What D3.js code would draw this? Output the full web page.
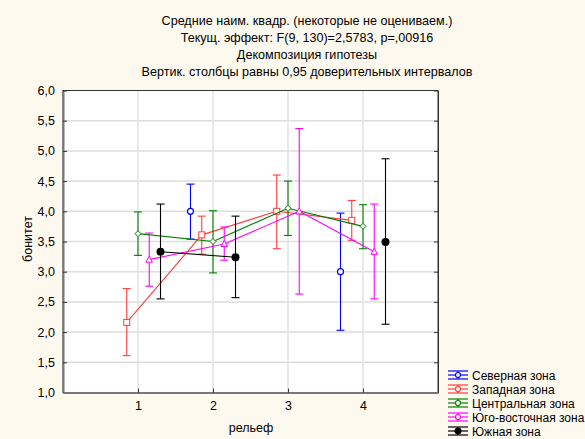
<!DOCTYPE html>
<html>
<head>
<meta charset="utf-8">
<script src="https://cdn.jsdelivr.net/npm/d3@7"></script>
<style>
  body { margin: 0; background: #fef9ee; }
  svg { display: block; font-family: "Liberation Sans", Arial, sans-serif; }
</style>
</head>
<body>
<svg id="chart" width="585" height="439"></svg>
<script>
// Title lines
const titles = [
    "Средние наим. квадр. (некоторые не оцениваем.)",
    "Текущ.  эффект: F(9, 130)=2,5783, p=,00916",
    "Декомпозиция гипотезы",
    "Вертик. столбцы равны 0,95 доверительных интервалов"
];

// Factor levels (рельеф) and zones
const levels = [1, 2, 3, 4];
const zones = ["Северная зона", "Западная зона", "Центральная зона", "Юго-восточная зона", "Южная зона"];
const zoneColors = ["#0000ff", "#ff3b3b", "#008000", "#ff00ff", "#000000"];
const zoneMarkers = ["circle", "square", "diamond", "triangle", "dot"];

// Means, lower and upper 95% limits, per zone (null = not estimated)
const means = [
    [null, 4.00, null, 3.00],
    [2.16, 3.61, 4.00, 3.85],
    [3.63, 3.50, 4.05, 3.75],
    [3.20, 3.46, 4.00, 3.33],
    [3.33, 3.24, null, 3.49]
];
const lower = [
    [null, 3.54, null, 2.03],
    [1.61, 3.29, 3.38, 3.52],
    [3.27, 2.98, 3.60, 3.38],
    [2.76, 3.19, 2.63, 2.55],
    [2.55, 2.57, null, 2.13]
];
const upper = [
    [null, 4.45, null, 3.97],
    [2.72, 3.92, 4.60, 4.18],
    [3.99, 4.01, 4.50, 4.11],
    [3.64, 3.74, 5.37, 4.12],
    [4.12, 3.92, null, 4.87]
];

const yTicks = [1.0, 1.5, 2.0, 2.5, 3.0, 3.5, 4.0, 4.5, 5.0, 5.5, 6.0];

const svg = d3.select("#chart");
const plot = { left: 63, right: 438, top: 90.5, bottom: 392.5 };

const x = d3.scaleLinear().domain([0, 5]).range([plot.left, plot.right]);
const y = d3.scaleLinear().domain([1, 6]).range([plot.bottom, plot.top]);
const fmt = v => d3.format(".1f")(v).replace(".", ",");

// Titles
svg.selectAll(".title")
    .data(titles)
    .enter().append("text")
    .attr("x", 307)
    .attr("y", (d, i) => 25 + i * 17)
    .attr("text-anchor", "middle")
    .style("font-size", "12.6px")
    .text(d => d);

// Plot background
svg.append("rect")
    .attr("x", plot.left).attr("y", plot.top)
    .attr("width", plot.right - plot.left)
    .attr("height", plot.bottom - plot.top)
    .attr("fill", "#fff");

// Grid lines
svg.selectAll(".hgrid")
    .data(yTicks.slice(1, -1))
    .enter().append("line")
    .attr("x1", plot.left).attr("x2", plot.right)
    .attr("y1", d => y(d)).attr("y2", d => y(d))
    .attr("stroke", "#dddddd").attr("stroke-width", 1.5);

svg.selectAll(".vgrid")
    .data(levels)
    .enter().append("line")
    .attr("x1", d => x(d)).attr("x2", d => x(d))
    .attr("y1", plot.top).attr("y2", plot.bottom)
    .attr("stroke", "#e3e3e3").attr("stroke-width", 1.5);

// Frame
svg.append("rect")
    .attr("x", plot.left).attr("y", plot.top)
    .attr("width", plot.right - plot.left)
    .attr("height", plot.bottom - plot.top)
    .attr("fill", "none")
    .attr("stroke", "#333").attr("stroke-width", 1);

// Axes (inward ticks)
const yAxis = svg.append("g")
    .attr("transform", `translate(${plot.left},0)`)
    .call(d3.axisLeft(y).tickValues(yTicks).tickFormat(fmt).tickSizeInner(-4).tickSizeOuter(0).tickPadding(8));
const yAxisR = svg.append("g")
    .attr("transform", `translate(${plot.right},0)`)
    .call(d3.axisRight(y).tickValues(yTicks).tickFormat("").tickSizeInner(-4).tickSizeOuter(0));
const xAxis = svg.append("g")
    .attr("transform", `translate(0,${plot.bottom})`)
    .call(d3.axisBottom(x).tickValues(levels).tickFormat(d3.format("d")).tickSizeInner(-4).tickSizeOuter(0).tickPadding(9));

[yAxis, yAxisR, xAxis].forEach(g => {
    g.select(".domain").attr("stroke", "#777").attr("stroke-width", 2);
    g.selectAll(".tick line").attr("stroke", "#333");
    g.selectAll("text").style("font-size", "12.5px").style("font-family", "Liberation Sans, Arial, sans-serif").attr("fill", "#000");
});
yAxisR.select(".domain").attr("stroke", "#333").attr("stroke-width", 1);

// Axis labels
svg.append("text")
    .attr("transform", "translate(32,239) rotate(-90)")
    .attr("text-anchor", "middle")
    .style("font-size", "12.5px")
    .text("бонитет");

svg.append("text")
    .attr("x", 251).attr("y", 432)
    .attr("text-anchor", "middle")
    .style("font-size", "12.5px")
    .text("рельеф");

// Marker drawing
function drawMarker(g, type, cx, cy, color) {
    if (type === "circle") {
        g.append("circle").attr("cx", cx).attr("cy", cy).attr("r", 3)
            .attr("fill", "#fff").attr("stroke", color).attr("stroke-width", 1.2);
    } else if (type === "square") {
        g.append("rect").attr("x", cx - 3).attr("y", cy - 3).attr("width", 6).attr("height", 6)
            .attr("fill", "#fff").attr("stroke", color).attr("stroke-width", 1);
    } else if (type === "diamond") {
        g.append("path").attr("d", `M${cx},${cy - 3}L${cx + 3},${cy}L${cx},${cy + 3}L${cx - 3},${cy}Z`)
            .attr("fill", "#fff").attr("stroke", color).attr("stroke-width", 1);
    } else if (type === "triangle") {
        g.append("path").attr("d", `M${cx},${cy - 3.5}L${cx + 3.2},${cy + 2.6}L${cx - 3.2},${cy + 2.6}Z`)
            .attr("fill", "#fff").attr("stroke", color).attr("stroke-width", 1);
    } else {
        g.append("circle").attr("cx", cx).attr("cy", cy).attr("r", 4).attr("fill", color);
    }
}

// Series
const capHalf = 4;
zones.forEach((zone, zi) => {
    const offset = (zi - 2) * 0.15;
    const color = zoneColors[zi];
    const g = svg.append("g");

    // connecting lines between adjacent estimated levels
    for (let k = 0; k < levels.length - 1; k++) {
        if (means[zi][k] != null && means[zi][k + 1] != null) {
            g.append("line")
                .attr("x1", x(levels[k] + offset)).attr("y1", y(means[zi][k]))
                .attr("x2", x(levels[k + 1] + offset)).attr("y2", y(means[zi][k + 1]))
                .attr("stroke", color).attr("stroke-width", 1.1);
        }
    }

    levels.forEach((lv, k) => {
        if (means[zi][k] == null) return;
        const cx = x(lv + offset);
        const ylo = y(lower[zi][k]), yhi = y(upper[zi][k]);
        g.append("line").attr("x1", cx).attr("x2", cx).attr("y1", ylo).attr("y2", yhi)
            .attr("stroke", color).attr("stroke-width", 1.1);
        [ylo, yhi].forEach(yy => {
            g.append("line").attr("x1", cx - capHalf).attr("x2", cx + capHalf)
                .attr("y1", yy).attr("y2", yy)
                .attr("stroke", color).attr("stroke-width", 1.1);
        });
        drawMarker(g, zoneMarkers[zi], cx, y(means[zi][k]), color);
    });
});

// Legend
const legend = svg.append("g").attr("transform", "translate(448,375)");
zones.forEach((zone, zi) => {
    const row = legend.append("g").attr("transform", `translate(0,${zi * 14})`);
    const color = zoneColors[zi];
    [-4, 0, 4].forEach(dy => {
        row.append("line").attr("x1", 0).attr("x2", 20).attr("y1", dy).attr("y2", dy)
            .attr("stroke", color).attr("stroke-width", 1.2);
    });
    row.append("line").attr("x1", 10).attr("x2", 10).attr("y1", -4).attr("y2", 4)
        .attr("stroke", color).attr("stroke-width", 1.2);
    row.append("circle").attr("cx", 10).attr("cy", 0).attr("r", zi === 4 ? 3 : 2.5)
        .attr("fill", zi === 4 ? color : "#fff").attr("stroke", color).attr("stroke-width", 1.2);
    row.append("text").attr("x", 24).attr("y", 4.5)
        .style("font-size", "12px")
        .text(zone);
});
</script>
</body>
</html>
